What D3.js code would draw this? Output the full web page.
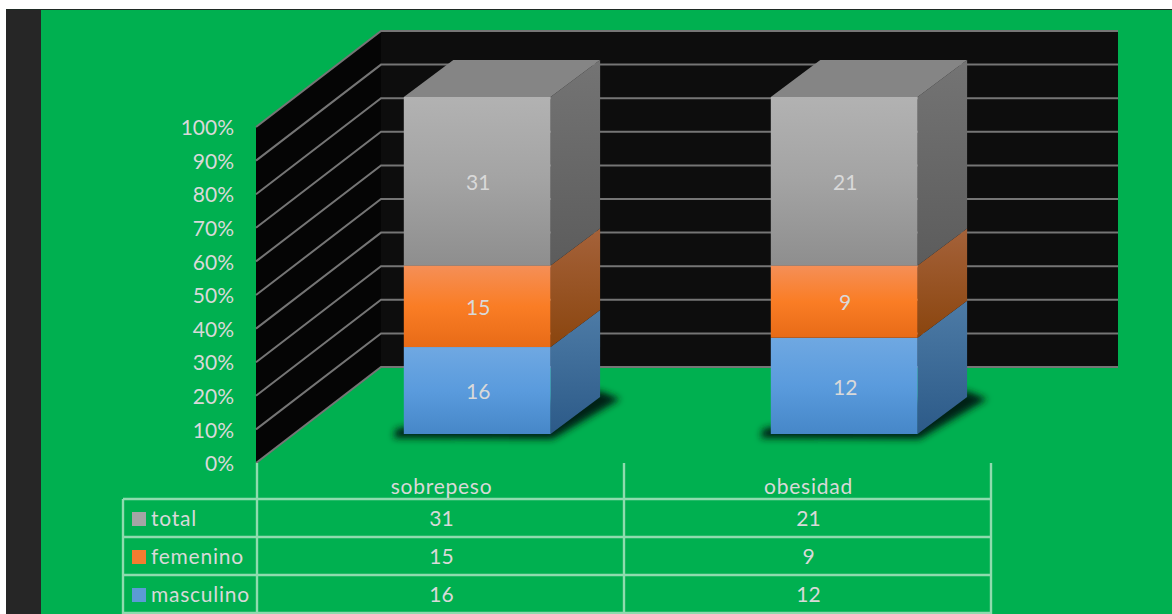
<!DOCTYPE html>
<html>
<head>
<meta charset="utf-8">
<script src="https://cdn.jsdelivr.net/npm/d3@7"></script>
<style>
  html, body { margin: 0; padding: 0; background: #fff; }
  svg { display: block; }
  text { font-family: Lato, "Open Sans", sans-serif; fill: #d9d9d9; }
  text.word { letter-spacing: 0.75px; }
</style>
</head>
<body>
<div id="chart"></div>
<script>
//chart values
var categories = ["sobrepeso", "obesidad"];
var seriesNames = ["masculino", "femenino", "total"];
var masculino = [16, 12];
var femenino = [15, 9];
var total = [31, 21];
var percentTicks = [0, 10, 20, 30, 40, 50, 60, 70, 80, 90, 100];

var values = { masculino: masculino, femenino: femenino, total: total };
var rows = categories.map(function(c, i) {
  var r = { category: c };
  seriesNames.forEach(function(s) { r[s] = values[s][i]; });
  return r;
});

var width = 1172, height = 614;

//front-face colours: [top, middle, bottom]; side: [top, bottom]
var colors = {
  masculino: { front: ["#6fa8e2", "#5a9bdd", "#4687c8"], side: ["#4d7ba6", "#2c5a88"], key: "#5b9bd5" },
  femenino: { front: ["#f58f57", "#fa7d25", "#e86b17"], side: ["#a5623a", "#8a450e"], key: "#f47c30" },
  total: { front: ["#b2b2b2", "#a3a3a3", "#8e8e8e"], side: ["#747474", "#5c5c5c"], key: "#a5a5a5" }
};

var svg = d3.select("#chart").append("svg")
    .attr("width", width)
    .attr("height", height);

var defs = svg.append("defs");

seriesNames.forEach(function(s) {
  var g = defs.append("linearGradient").attr("id", "front-" + s)
      .attr("x1", 0).attr("y1", 0).attr("x2", 0).attr("y2", 1);
  g.selectAll("stop").data(colors[s].front).enter().append("stop")
      .attr("offset", function(d, i) { return i * 50 + "%"; })
      .attr("stop-color", function(d) { return d; });
  var g2 = defs.append("linearGradient").attr("id", "side-" + s)
      .attr("x1", 0).attr("y1", 0).attr("x2", 0).attr("y2", 1);
  g2.selectAll("stop").data(colors[s].side).enter().append("stop")
      .attr("offset", function(d, i) { return i * 100 + "%"; })
      .attr("stop-color", function(d) { return d; });
});

defs.append("filter").attr("id", "blur")
    .attr("x", "-20%").attr("y", "-20%").attr("width", "140%").attr("height", "140%")
  .append("feGaussianBlur").attr("stdDeviation", 3.5);

//page background
svg.append("rect").attr("x", 6).attr("y", 10).attr("width", width - 6).attr("height", height - 10).attr("fill", "#00b050");
svg.append("rect").attr("x", 6).attr("y", 10).attr("width", 35).attr("height", height - 10).attr("fill", "#262626");
svg.append("rect").attr("x", 6).attr("y", 9).attr("width", width - 6).attr("height", 1).attr("fill", "#1f2a24");

//scales
var y = d3.scaleLinear().domain([0, 100]).range([463, 127]);
var x = d3.scaleBand().domain(categories).range([257, 991]);
var barY = d3.scaleLinear().domain([0, 1]).range([434, 97]);

//walls
var wallDx = 125, wallDy = -96, wallRight = 1118;
var line = d3.line();

svg.append("path")
    .attr("d", line([[256, y(0)], [256 + wallDx, y(0) + wallDy], [256 + wallDx, y(100) + wallDy], [256, y(100)]]) + "Z")
    .attr("fill", "#050505");
svg.append("rect")
    .attr("x", 256 + wallDx).attr("y", y(100) + wallDy)
    .attr("width", wallRight - 256 - wallDx).attr("height", y(0) - y(100))
    .attr("fill", "#0d0d0d");

svg.append("g").selectAll("path")
    .data(percentTicks)
  .enter().append("path")
    .attr("d", function(d) {
      return line([[256, y(d)], [256 + wallDx, y(d) + wallDy], [wallRight, y(d) + wallDy]]);
    })
    .attr("fill", "none")
    .attr("stroke", "#757575")
    .attr("stroke-width", 2);

//y axis
var yAxis = svg.append("g")
    .attr("transform", "translate(256,1)")
    .call(d3.axisLeft(y).tickValues(percentTicks).tickSize(0).tickPadding(22)
      .tickFormat(function(d) { return d + "%"; }));
yAxis.select(".domain").remove();
yAxis.selectAll("text").style("font-family", null).attr("font-size", 21).attr("fill", null);

//bars
var stacked = d3.stack().keys(seriesNames).offset(d3.stackOffsetExpand)(rows);
var barDx = 49.5, barDy = -37;
var barW = x.bandwidth() * 0.4;

function barLeft(d) { return x(d.data.category) + x.bandwidth() * 0.4; }

//shadow under each bar
svg.append("g").attr("filter", "url(#blur)").selectAll("path")
    .data(stacked[0])
  .enter().append("path")
    .attr("d", function(d) {
      var l = barLeft(d), b = barY(0);
      return line([[l - 8, b - 5], [l - 10, b + 4], [l + barW + 2, b + 5], [l + barW + barDx + 20, b + barDy + 2], [l + barW + barDx, b + barDy - 6]]) + "Z";
    })
    .attr("fill", "#002412");

var barGroups = svg.append("g").selectAll("g")
    .data(stacked)
  .enter().append("g");

barGroups.each(function(serie) {
  var g = d3.select(this);
  var name = serie.key;

  //side face
  g.selectAll("path.side").data(serie).enter().append("path").attr("class", "side")
      .attr("d", function(d) {
        var r = barLeft(d) + barW;
        return line([[r, barY(d[0])], [r + barDx, barY(d[0]) + barDy], [r + barDx, barY(d[1]) + barDy], [r, barY(d[1])]]) + "Z";
      })
      .attr("fill", "url(#side-" + name + ")");

  //front face
  g.selectAll("rect.front").data(serie).enter().append("rect").attr("class", "front")
      .attr("x", barLeft)
      .attr("y", function(d) { return barY(d[1]); })
      .attr("width", barW)
      .attr("height", function(d) { return barY(d[0]) - barY(d[1]); })
      .attr("fill", "url(#front-" + name + ")");
});

//top faces
svg.append("g").selectAll("path")
    .data(stacked[stacked.length - 1])
  .enter().append("path")
    .attr("d", function(d) {
      var l = barLeft(d), t = barY(d[1]);
      return line([[l, t], [l + barW, t], [l + barW + barDx, t + barDy], [l + barDx, t + barDy]]) + "Z";
    })
    .attr("fill", "#858585");

//data labels
barGroups.each(function(serie) {
  d3.select(this).selectAll("text").data(serie).enter().append("text")
      .attr("x", function(d) { return barLeft(d) + barW / 2 + 1; })
      .attr("y", function(d) { return barY((d[0] + d[1]) / 2) + 1.5; })
      .attr("dy", "0.35em")
      .attr("text-anchor", "middle")
      .attr("font-size", 21)
      .text(function(d) { return d.data[serie.key]; });
});

//data table
var tableLeft = 123;
var rowY = d3.scalePoint().domain(["total", "femenino", "masculino", "end"]).range([499, 613]);
var rowOrder = ["total", "femenino", "masculino"];
var rowH = rowY.step();
var lineColor = "#8fdbae";

var table = svg.append("g");

var colEdges = [x(categories[0])].concat(categories.map(function(c) { return x(c) + x.bandwidth(); }));
table.selectAll("line.col").data(colEdges).enter().append("line").attr("class", "col")
    .attr("x1", function(d) { return d; }).attr("x2", function(d) { return d; })
    .attr("y1", y(0)).attr("y2", height);
table.append("line").attr("class", "col")
    .attr("x1", tableLeft).attr("x2", tableLeft).attr("y1", rowY("total")).attr("y2", height);
table.selectAll("line.row").data(rowY.domain()).enter().append("line").attr("class", "row")
    .attr("x1", tableLeft).attr("x2", colEdges[colEdges.length - 1])
    .attr("y1", function(d) { return rowY(d); }).attr("y2", function(d) { return rowY(d); });
table.selectAll("line").attr("stroke", lineColor).attr("stroke-width", 2.4);

//category labels
table.selectAll("text.cat").data(categories).enter().append("text").attr("class", "cat word")
    .attr("x", function(d) { return x(d) + x.bandwidth() / 2 + 1; })
    .attr("y", (y(0) + rowY("total")) / 2 + 6)
    .attr("dy", "0.35em")
    .attr("text-anchor", "middle")
    .attr("font-size", 21)
    .text(function(d) { return d; });

rowOrder.forEach(function(s) {
  var cy = rowY(s) + rowH / 2 + 1;

  table.append("rect")
      .attr("x", tableLeft + 9).attr("y", cy - 7)
      .attr("width", 14).attr("height", 14)
      .attr("fill", colors[s].key);

  table.append("text")
      .attr("class", "word")
      .attr("x", tableLeft + 28).attr("y", cy)
      .attr("dy", "0.35em")
      .attr("font-size", 21)
      .text(s);

  table.selectAll("text.v-" + s).data(rows).enter().append("text").attr("class", "v-" + s)
      .attr("x", function(d) { return x(d.category) + x.bandwidth() / 2 + 1; })
      .attr("y", cy)
      .attr("dy", "0.35em")
      .attr("text-anchor", "middle")
      .attr("font-size", 21)
      .text(function(d) { return d[s]; });
});
</script>
</body>
</html>
